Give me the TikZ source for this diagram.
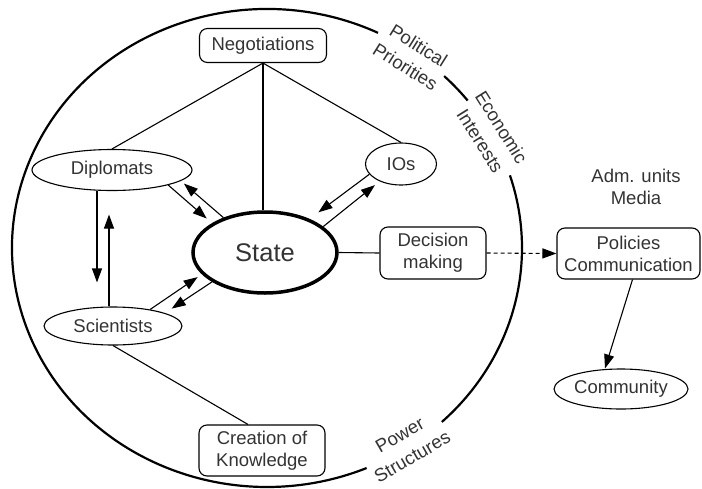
\documentclass[tikz,border=0pt]{standalone}
\usepackage{fontspec}
\setmainfont{Liberation Sans}
\usetikzlibrary{arrows.meta,shapes.geometric,calc}
\begin{document}
\begin{tikzpicture}[x=1pt,y=1pt,
  lbl/.style={font=\fontsize{18.5}{22}\selectfont, text=black!80, align=center, inner sep=0pt},
  rlbl/.style={lbl, font=\fontsize{18.5}{25}\selectfont},
  box/.style={lbl, draw, rounded corners=8pt, line width=1.1pt},
  oval/.style={lbl, draw, ellipse, line width=1.1pt},
  con/.style={line width=1.1pt},
  arr/.style={con, -{Triangle[length=14pt,width=10pt]}},
  ring/.style={line width=2.2pt}]
\useasboundingbox (0,0) rectangle (702,-488);

% outer ring with gaps for labels
\coordinate (ctr) at (267,-248);
\draw[ring] ([shift={(64.2:255 and 239)}]ctr) arc[start angle=64.2, end angle=293, x radius=255, y radius=239];
\draw[ring] ([shift={(38.1:255 and 239)}]ctr) arc[start angle=38.1, end angle=46, x radius=255, y radius=239];
\draw[ring] ([shift={(-46.7:255 and 239)}]ctr) arc[start angle=-46.7, end angle=17.7, x radius=255, y radius=239];

% ring labels
\node[rlbl, rotate=-32] (pp) at (412,-56) {Political\\Priorities};
\node[rlbl, rotate=-58] (ei) at (491,-134) {Economic\\Interests};
\node[rlbl, rotate=30] (ps) at (406,-446) {Power\\Structures};
\node[lbl] (adm) at (636,-187) {Adm. units\\Media};

% nodes
\node[box, minimum width=127, minimum height=34] (neg) at (263,-45.5) {Negotiations};
\node[oval, minimum width=160, minimum height=41] (dip) at (112,-170) {Diplomats};
\node[oval, minimum width=138, minimum height=38] (sci) at (113,-326) {Scientists};
\node[oval, minimum width=144, minimum height=81, line width=3.5pt, font=\fontsize{25.5}{28}\selectfont] (state) at (265,-252.5) {State};
\node[oval, minimum width=71, minimum height=42] (ios) at (401,-164) {IOs};
\node[box, minimum width=106, minimum height=52] (dec) at (433,-253) {Decision\\making};
\node[box, minimum width=143, minimum height=51] (pol) at (628.5,-253.5) {Policies\\Communication};
\node[oval, minimum width=134, minimum height=40] (com) at (621,-389) {Community};
\node[box, minimum width=126, minimum height=51] (ck) at (262,-450.5) {Creation of\\Knowledge};

% plain lines
\draw[con] (neg.south) -- (dip.north);
\draw[con] (neg.south) -- (neg.south |- state.north);
\draw[con] (neg.south) -- (ios.north);
\draw[con] (sci.south) -- ([xshift=-14pt]ck.north);
\draw[con] (state.east) -- (dec.west);

% arrows
\draw[arr, shorten >=7pt] (dip.-15) -- (state.151);
\draw[arr, shorten >=4pt] (state.140) -- (dip.-9);
\draw[arr, shorten >=11pt] (ios.198) -- (state.37);
\draw[arr, shorten >=6pt] (state.24) -- (ios.219);
\draw[arr, shorten >=5pt] (sci.24) -- (state.199);
\draw[arr, shorten >=8pt] (state.209.5) -- (sci.14);
\draw[arr, shorten >=24pt] ([xshift=-15pt]dip.south) -- ([xshift=-16pt]sci.north);
\draw[arr, shorten >=23.5pt] ([xshift=-4pt]sci.north) -- ([xshift=-3pt]dip.south);
\draw[arr, dash pattern=on 4pt off 3pt] (dec.east) -- (pol.west);
\draw[arr] ([xshift=4pt]pol.south) -- ([xshift=-16pt]com.north);
\end{tikzpicture}
\end{document}
